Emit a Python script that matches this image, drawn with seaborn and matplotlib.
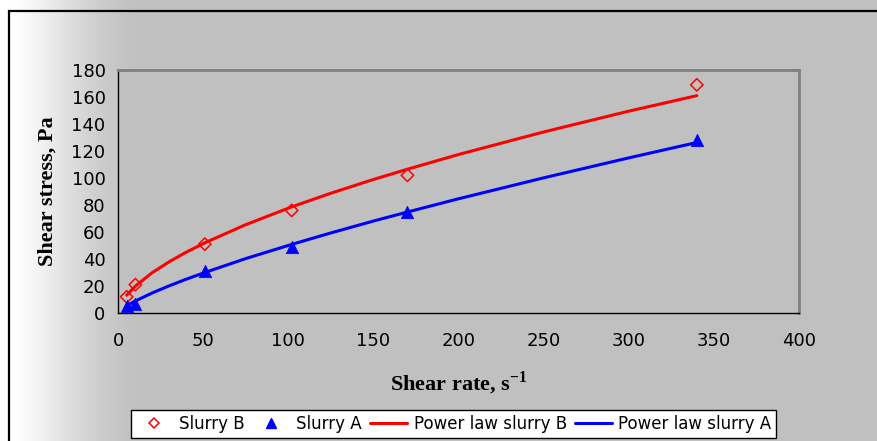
import numpy as np
import pandas as pd
import matplotlib
matplotlib.use("Agg")
import matplotlib.pyplot as plt
from matplotlib.lines import Line2D
from matplotlib.patches import Rectangle
import seaborn as sns

# Measured rheometer points
shear_rate = [5.1, 10.2, 51, 102, 170, 340]
stress_b = [12, 21, 51, 76, 102, 169]
stress_a = [5, 7, 31, 49, 75, 128]

# Power-law curves
fit_rate = [5.1, 10.2, 20, 30, 40, 51, 75, 102, 125, 150, 170, 200, 250, 300, 340]
fit_b = [13.2, 19.9, 29.8, 37.9, 45.0, 52.0, 65.4, 78.6, 88.7, 98.9, 106.5, 117.4, 134.1, 149.5, 161.0]
fit_a = [5.3, 8.9, 14.8, 20.1, 25.0, 30.0, 40.3, 50.8, 59.3, 68.1, 74.8, 84.6, 100.1, 114.9, 126.3]

x_ticks = [0, 50, 100, 150, 200, 250, 300, 350, 400]
y_ticks = [0, 20, 40, 60, 80, 100, 120, 140, 160, 180]

GRAY = "#c0c0c0"

sns.set_style("white")
plt.rcParams["font.family"] = ["DejaVu Sans"]
plt.rcParams["text.color"] = "black"
plt.rcParams["axes.labelcolor"] = "black"
plt.rcParams["mathtext.fontset"] = "custom"
plt.rcParams["mathtext.bf"] = "Liberation Serif:bold"
plt.rcParams["mathtext.rm"] = "Liberation Serif"

W, H = 877, 441
fig = plt.figure(figsize=(W / 100, H / 100), dpi=100)
fig.patch.set_facecolor(GRAY)

# Background: white-to-gray fade on the left side of the chart area
bg = fig.add_axes([0, 0, 1, 1], zorder=-10)
cols = np.arange(W)
t = np.clip((cols - 12) / 140.0, 0, 1)
t = np.sin(t * np.pi / 2) ** 1.3
white = np.array([1.0, 1.0, 1.0])
gray = np.array([0.753, 0.753, 0.753])
row = white[None, :] * (1 - t[:, None]) + gray[None, :] * t[:, None]
img = np.repeat(row[None, :, :], H, axis=0)
bg.imshow(img, aspect="auto", extent=[0, W, 0, H], origin="lower")
bg.set_xlim(0, W)
bg.set_ylim(0, H)
bg.axis("off")
# Outer chart border
bg.add_patch(Rectangle((9, -20), W + 20, H - 11 + 20, fill=False,
                       edgecolor="black", linewidth=1.6))

ax = fig.add_axes([118 / W, 1 - 313 / H, (799 - 118) / W, (313 - 70) / H])
ax.set_facecolor(GRAY)

pts_b = pd.DataFrame({"rate": shear_rate, "stress": stress_b})
pts_a = pd.DataFrame({"rate": shear_rate, "stress": stress_a})
curve_b = pd.DataFrame({"rate": fit_rate, "stress": fit_b})
curve_a = pd.DataFrame({"rate": fit_rate, "stress": fit_a})

sns.lineplot(data=curve_b, x="rate", y="stress", color="#ff0000", linewidth=2.2, ax=ax, zorder=2)
sns.lineplot(data=curve_a, x="rate", y="stress", color="#0000ff", linewidth=2.2, ax=ax, zorder=2)
sns.scatterplot(data=pts_b, x="rate", y="stress", marker="D", s=40, facecolor="none",
                edgecolor="#ff0000", linewidth=1.1, ax=ax, zorder=3)
sns.scatterplot(data=pts_a, x="rate", y="stress", marker="^", s=80, color="#0000ff",
                edgecolor="#0000ff", linewidth=0.5, ax=ax, zorder=3)

ax.set_xlim(0, 400)
ax.set_ylim(0, 180)
ax.set_xticks(x_ticks)
ax.set_yticks(y_ticks)
ax.tick_params(axis="both", direction="out", length=5, width=1, colors="black",
               labelsize=13, pad=4)
ax.tick_params(axis="x", pad=9)

for side in ["left", "bottom"]:
    ax.spines[side].set_color("black")
    ax.spines[side].set_linewidth(1.0)
for side in ["top", "right"]:
    ax.spines[side].set_color("#808080")
    ax.spines[side].set_linewidth(2.0)
    ax.spines[side].set_visible(True)

ax.set_xlabel(r"Shear rate, s$^{\mathbf{-1}}$", fontfamily="Liberation Serif",
              fontweight="bold", fontsize=16, labelpad=14, color="black")
ax.set_ylabel("Shear stress, Pa", fontfamily="Liberation Serif",
              fontweight="bold", fontsize=16, labelpad=10, color="black")

handles = [
    Line2D([], [], marker="D", linestyle="none", markerfacecolor="none",
           markeredgecolor="#ff0000", markersize=5, markeredgewidth=1.1),
    Line2D([], [], marker="^", linestyle="none", color="#0000ff", markersize=7),
    Line2D([], [], color="#ff0000", linewidth=2.2),
    Line2D([], [], color="#0000ff", linewidth=2.2),
]
labels = ["Slurry B", "Slurry A", "Power law slurry B", "Power law slurry A"]
leg = fig.legend(handles, labels, loc="center", bbox_to_anchor=(453.5 / W, 1 - 424 / H),
                 ncol=4, frameon=True, fancybox=False, fontsize=12,
                 handlelength=2.2, handletextpad=0.4, columnspacing=0.5,
                 borderpad=0.3, edgecolor="black", facecolor="white", framealpha=1)
leg.get_frame().set_linewidth(1.0)
for txt in leg.get_texts():
    txt.set_color("black")

fig.savefig("out.png", dpi=100, facecolor=fig.get_facecolor())
